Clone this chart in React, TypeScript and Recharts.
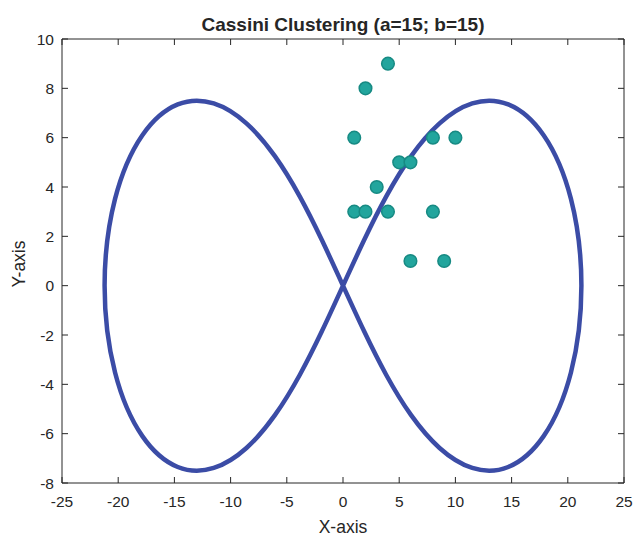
import React from 'react';
import { ScatterChart, Scatter, XAxis, YAxis } from 'recharts';

// Cassini oval (a = b = 15, figure-eight), traced from the crossing point
const curvePoints = [
  { x: 0, y: 0 },
  { x: -1.87, y: -1.84 },
  { x: -3.85, y: -3.62 },
  { x: -6.06, y: -5.25 },
  { x: -8.59, y: -6.58 },
  { x: -11.5, y: -7.39 },
  { x: -14.7, y: -7.35 },
  { x: -17.85, y: -6.1 },
  { x: -20.28, y: -3.52 },
  { x: -21.21, y: 0 },
  { x: -20.28, y: 3.52 },
  { x: -17.85, y: 6.1 },
  { x: -14.7, y: 7.35 },
  { x: -11.5, y: 7.39 },
  { x: -8.59, y: 6.58 },
  { x: -6.06, y: 5.25 },
  { x: -3.85, y: 3.62 },
  { x: -1.87, y: 1.84 },
  { x: 0, y: 0 },
  { x: 1.87, y: -1.84 },
  { x: 3.85, y: -3.62 },
  { x: 6.06, y: -5.25 },
  { x: 8.59, y: -6.58 },
  { x: 11.5, y: -7.39 },
  { x: 14.7, y: -7.35 },
  { x: 17.85, y: -6.1 },
  { x: 20.28, y: -3.52 },
  { x: 21.21, y: 0 },
  { x: 20.28, y: 3.52 },
  { x: 17.85, y: 6.1 },
  { x: 14.7, y: 7.35 },
  { x: 11.5, y: 7.39 },
  { x: 8.59, y: 6.58 },
  { x: 6.06, y: 5.25 },
  { x: 3.85, y: 3.62 },
  { x: 1.87, y: 1.84 },
  { x: 0, y: 0 },
];

const clusterPoints = [
  { x: 1, y: 6 },
  { x: 2, y: 8 },
  { x: 4, y: 9 },
  { x: 1, y: 3 },
  { x: 2, y: 3 },
  { x: 3, y: 4 },
  { x: 4, y: 3 },
  { x: 5, y: 5 },
  { x: 6, y: 5 },
  { x: 8, y: 6 },
  { x: 10, y: 6 },
  { x: 8, y: 3 },
  { x: 6, y: 1 },
  { x: 9, y: 1 },
];

const xTicks = [-25, -20, -15, -10, -5, 0, 5, 10, 15, 20, 25];
const yTicks = [-8, -6, -4, -2, 0, 2, 4, 6, 8, 10];

const TITLE = 'Cassini Clustering (a=15; b=15)';
const AXIS = '#262626';
const FONT = '"Liberation Sans", Arial, sans-serif';

const tickStyle = { fill: AXIS, fontSize: 15.5, fontFamily: FONT };

const TitleLabel = (props: any) => {
  const { viewBox } = props;
  const cx = viewBox.x + viewBox.width / 2;
  return (
    <text x={cx} y={viewBox.y - 7} textAnchor="middle"
      fontSize={19} fontWeight="bold" fontFamily={FONT} fill={AXIS}>
      {TITLE}
    </text>
  );
};

const XLabel = (props: any) => {
  const { viewBox } = props;
  const cx = viewBox.x + viewBox.width / 2;
  return (
    <text x={cx} y={viewBox.y + 50} textAnchor="middle"
      fontSize={17.5} fontFamily={FONT} fill={AXIS}>
      X-axis
    </text>
  );
};

const YLabel = (props: any) => {
  const { viewBox } = props;
  const x = viewBox.x + 3;
  const y = viewBox.y + viewBox.height / 2 + 3;
  return (
    <text x={x} y={y} transform={`rotate(-90 ${x} ${y})`} textAnchor="middle"
      fontSize={17.5} fontFamily={FONT} fill={AXIS}>
      Y-axis
    </text>
  );
};

const noTick = () => <g />;
const noShape = () => <g />;

export default function App() {
  return (
    <div style={{ position: 'absolute', left: 0, top: 0, width: 636, height: 538, background: '#fff' }}>
      <ScatterChart width={636} height={538} margin={{ top: 38, right: 11, bottom: 5, left: 22 }}>
        <XAxis xAxisId="bottom" dataKey="x" type="number" domain={[-25, 25]} ticks={xTicks}
          height={50} tickSize={-6} tickMargin={19} tick={tickStyle}
          axisLine={{ stroke: AXIS }} tickLine={{ stroke: AXIS }} allowDataOverflow
          label={XLabel} />
        <XAxis xAxisId="top" orientation="top" dataKey="x" type="number" domain={[-25, 25]}
          ticks={xTicks} height={1} tickSize={-6} tick={noTick}
          axisLine={{ stroke: AXIS }} tickLine={{ stroke: AXIS }} allowDataOverflow
          label={TitleLabel} />
        <YAxis yAxisId="left" dataKey="y" type="number" domain={[-8, 10]} ticks={yTicks}
          width={40} tickSize={-6} tickMargin={14} tick={tickStyle}
          axisLine={{ stroke: AXIS }} tickLine={{ stroke: AXIS }} allowDataOverflow
          label={YLabel} />
        <YAxis yAxisId="right" orientation="right" dataKey="y" type="number" domain={[-8, 10]}
          ticks={yTicks} width={1} tickSize={-6} tick={noTick}
          axisLine={{ stroke: AXIS }} tickLine={{ stroke: AXIS }} allowDataOverflow />
        <Scatter xAxisId="bottom" yAxisId="left" data={curvePoints} line={{ stroke: '#3b4ca6', strokeWidth: 4.5 }}
          lineJointType="natural" shape={noShape} isAnimationActive={false} />
        <Scatter xAxisId="bottom" yAxisId="left" data={clusterPoints} isAnimationActive={false}
          shape={(p: any) => (
            <circle cx={p.cx} cy={p.cy} r={6.3} fill="#22a59d" stroke="#178a83" strokeWidth={1.5} />
          )} />
      </ScatterChart>
    </div>
  );
}
